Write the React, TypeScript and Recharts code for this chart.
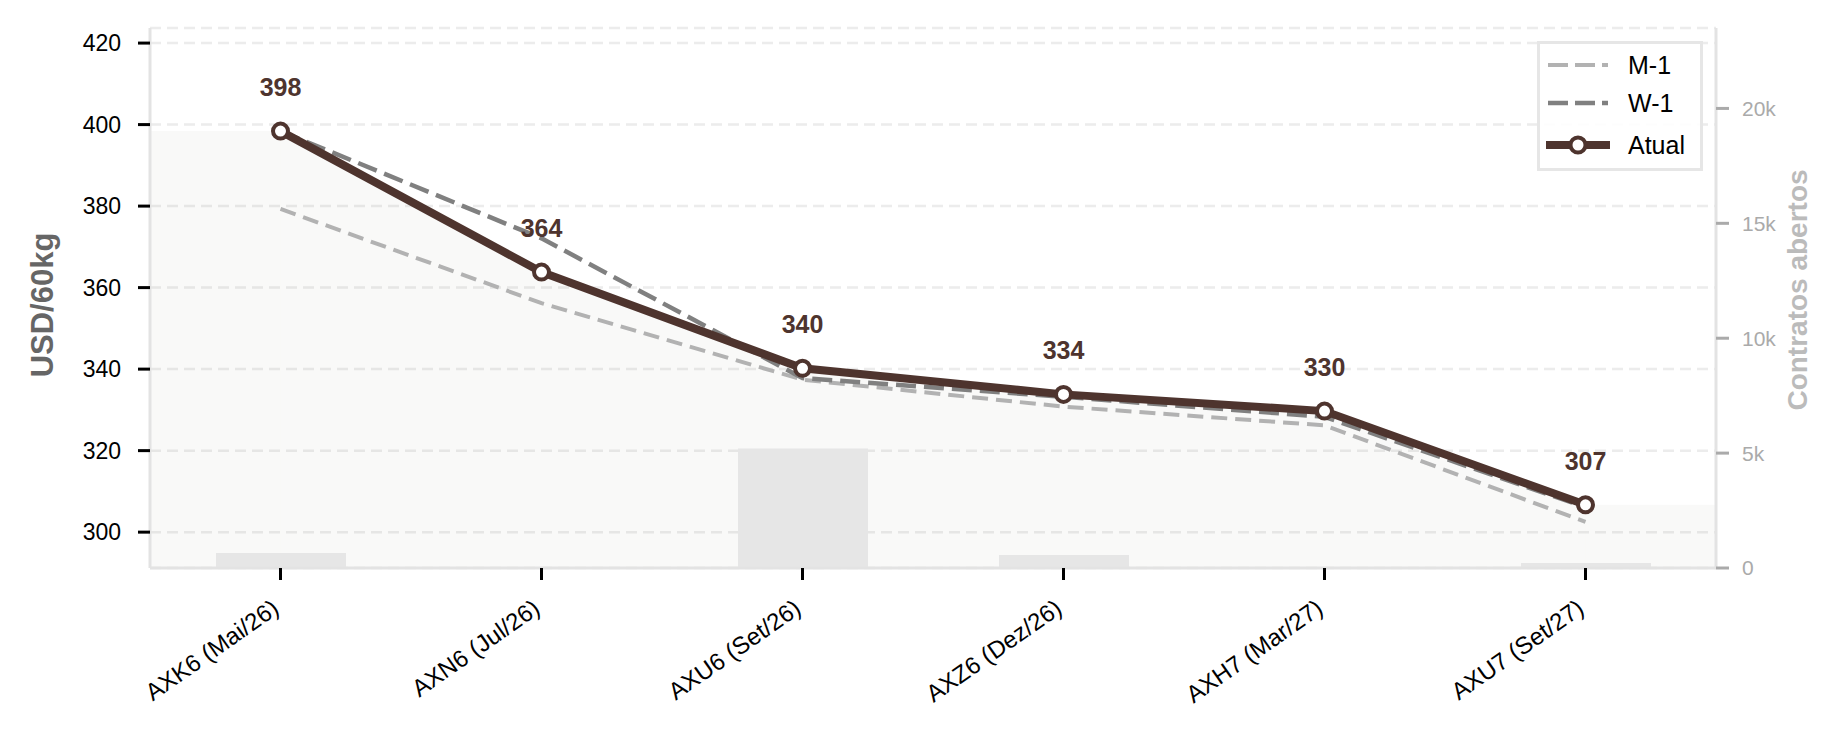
import React from 'react';
import {
  ComposedChart,
  Line,
  Bar,
  Area,
  XAxis,
  YAxis,
  CartesianGrid,
  Legend,
  LabelList,
  ReferenceArea,
} from 'recharts';

const contracts = ['AXK6 (Mai/26)', 'AXN6 (Jul/26)', 'AXU6 (Set/26)', 'AXZ6 (Dez/26)', 'AXH7 (Mar/27)', 'AXU7 (Set/27)'];
const atual = [398.4, 363.8, 340.2, 333.8, 329.7, 306.7];
const w1 = [398.4, 372.1, 337.8, 333.2, 328.3, 306.1];
const m1 = [379.3, 356.2, 337.4, 330.8, 326.2, 302.5];
const openInterest = [650, 0, 5200, 570, 0, 220];

const priceTicks = [300, 320, 340, 360, 380, 400, 420];
const oiTicks = [0, 5000, 10000, 15000, 20000];
const priceDomain = [291.2, 423.7];
const oiDomain = [0, 23500];

const FONT = '"Liberation Sans", Arial, Helvetica, sans-serif';
const BROWN = '#4e342e';
const W1_COLOR = '#808080';
const M1_COLOR = '#b2b2b2';

const data = contracts.map((c, i) => ({
  contract: c,
  atual: atual[i],
  w1: w1[i],
  m1: m1[i],
  oi: openInterest[i],
}));

const XTick = (props: any) => {
  const { x, y, payload } = props;
  return (
    <g transform={`translate(${x},${y + 30})`}>
      <text textAnchor="end" transform="rotate(-35)" fontSize={24} fontFamily={FONT} fill="#000">
        {payload.value}
      </text>
    </g>
  );
};

const ValueLabel = (props: any) => {
  const { x, y, value } = props;
  return (
    <text x={x} y={y - 35} textAnchor="middle" fontSize={25} fontWeight="bold" fontFamily={FONT} fill={BROWN}>
      {Math.round(value)}
    </text>
  );
};

const LeftTitle = (props: any) => {
  const vb = props.viewBox;
  const cx = vb.x + 42;
  const cy = vb.y + vb.height / 2 + 7;
  return (
    <text x={cx} y={cy} transform={`rotate(-90, ${cx}, ${cy})`} textAnchor="middle" dominantBaseline="central"
      fontSize={31} fontWeight="bold" fontFamily={FONT} fill="#666">
      USD/60kg
    </text>
  );
};

const RightTitle = (props: any) => {
  const vb = props.viewBox;
  const cx = vb.x + 81;
  const cy = vb.y + vb.height / 2 - 8;
  return (
    <text x={cx} y={cy} transform={`rotate(-90, ${cx}, ${cy})`} textAnchor="middle" dominantBaseline="central"
      fontSize={28} fontWeight="bold" fontFamily={FONT} fill="#bbb">
      Contratos abertos
    </text>
  );
};

const LegendBox = () => (
  <svg width={166} height={130} style={{ display: 'block' }}>
    <rect x={1.5} y={1.5} width={163} height={127} fill="#fff" fillOpacity={0.9} stroke="#e6e6e6" strokeWidth={3} />
    <line x1={11} x2={71} y1={24} y2={24} stroke={M1_COLOR} strokeWidth={4} strokeDasharray="20 7" />
    <line x1={11} x2={71} y1={62} y2={62} stroke={W1_COLOR} strokeWidth={4.5} strokeDasharray="20 7" />
    <line x1={9} x2={73} y1={104} y2={104} stroke={BROWN} strokeWidth={8} />
    <circle cx={41} cy={104} r={7.5} fill="#fff" stroke={BROWN} strokeWidth={4} />
    <g fontFamily={FONT} fontSize={25} fill="#000">
      <text x={91} y={33}>M-1</text>
      <text x={91} y={71}>W-1</text>
      <text x={91} y={113}>Atual</text>
    </g>
  </svg>
);

const edgeShape = (side: 'left' | 'right') => (p: any) => (
  <rect
    x={side === 'left' ? p.x : p.x + p.width / 2}
    y={p.y}
    width={p.width / 2}
    height={p.height}
    fill={BROWN}
    fillOpacity={0.03}
  />
);

export default function App() {
  return (
    <div style={{ position: 'absolute', left: 0, top: 0, background: '#fff' }}>
      <ComposedChart width={1846} height={734} data={data} margin={{ top: 28, right: 0, left: 0, bottom: 0 }}>
        <CartesianGrid yAxisId="left" vertical={false} stroke="#ececec" strokeWidth={2.5} strokeDasharray="11 6" />
        <XAxis
          dataKey="contract"
          height={166}
          tick={<XTick />}
          tickSize={12}
          interval={0}
          axisLine={{ stroke: '#e3e3e3', strokeWidth: 3 }}
          tickLine={{ stroke: '#000', strokeWidth: 3 }}
        />
        <YAxis
          yAxisId="left"
          width={150}
          domain={priceDomain}
          ticks={priceTicks}
          allowDataOverflow
          tickSize={12}
          tickMargin={17}
          tick={{ fontSize: 23, fontFamily: FONT, fill: '#000' }}
          axisLine={{ stroke: '#e3e3e3', strokeWidth: 3 }}
          tickLine={{ stroke: '#000', strokeWidth: 3 }}
          label={{ value: 'USD/60kg', content: LeftTitle }}
        />
        <YAxis
          yAxisId="right"
          orientation="right"
          width={130}
          domain={oiDomain}
          ticks={oiTicks}
          allowDataOverflow
          tickSize={13}
          tickMargin={13}
          tickFormatter={(v: number) => (v === 0 ? '0' : `${v / 1000}k`)}
          tick={{ fontSize: 21, fontFamily: FONT, fill: '#aaa', textAnchor: 'start' }}
          axisLine={{ stroke: '#e3e3e3', strokeWidth: 3 }}
          tickLine={{ stroke: '#aaa', strokeWidth: 3 }}
          label={{ value: 'Contratos abertos', content: RightTitle }}
        />
        <Area
          yAxisId="left"
          type="linear"
          dataKey="atual"
          baseValue="dataMin"
          stroke="none"
          fill={BROWN}
          fillOpacity={0.03}
          isAnimationActive={false}
          dot={false}
          activeDot={false}
          legendType="none"
        />
        <ReferenceArea yAxisId="left" x1={contracts[0]} x2={contracts[0]} y1={priceDomain[0]} y2={atual[0]} shape={edgeShape('left')} />
        <ReferenceArea yAxisId="left" x1={contracts[5]} x2={contracts[5]} y1={priceDomain[0]} y2={atual[5]} shape={edgeShape('right')} />
        <Bar yAxisId="right" dataKey="oi" fill="#e6e6e6" barSize={130} isAnimationActive={false} />
        <Line
          yAxisId="left"
          type="linear"
          dataKey="m1"
          stroke={M1_COLOR}
          strokeWidth={4}
          strokeDasharray="16 8"
          dot={false}
          activeDot={false}
          isAnimationActive={false}
        />
        <Line
          yAxisId="left"
          type="linear"
          dataKey="w1"
          stroke={W1_COLOR}
          strokeWidth={4.5}
          strokeDasharray="20 8"
          dot={false}
          activeDot={false}
          isAnimationActive={false}
        />
        <Line
          yAxisId="left"
          type="linear"
          dataKey="atual"
          stroke={BROWN}
          strokeWidth={8}
          dot={{ r: 7.5, fill: '#fff', stroke: BROWN, strokeWidth: 4 }}
          activeDot={false}
          isAnimationActive={false}
        >
          <LabelList dataKey="atual" content={ValueLabel} />
        </Line>
        <Legend
          layout="horizontal"
          verticalAlign="middle"
          align="center"
          content={<LegendBox />}
          wrapperStyle={{ left: 1537, top: 41, width: 166, height: 130 }}
        />
      </ComposedChart>
    </div>
  );
}
